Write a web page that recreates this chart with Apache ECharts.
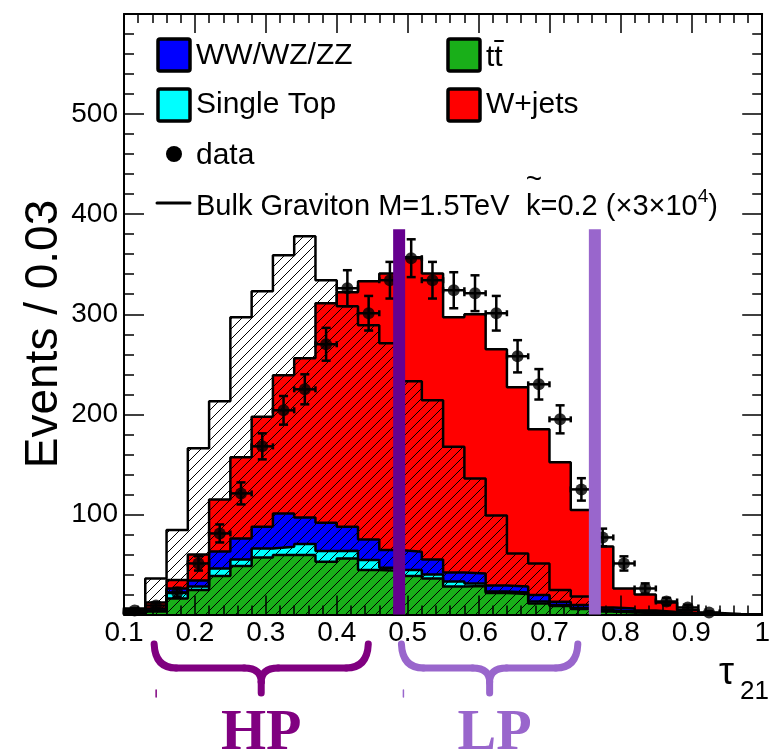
<!DOCTYPE html>
<html>
<head>
<meta charset="utf-8">
<script src="https://cdn.jsdelivr.net/npm/echarts@6/dist/echarts.min.js"></script>
<style>
  html, body { margin: 0; padding: 0; background: #ffffff; }
  #chart { width: 773px; height: 750px; }
</style>
</head>
<body>
<div id="chart"></div>
<script>
// Binning of the tau21 histogram: 30 bins of width 0.03 starting at 0.1
const binLow = 0.1;
const binWidth = 0.03;
const nBins = 30;

// Background components (events per bin), stacked bottom to top
const ttbar     = [1, 3, 16, 24.5, 38.5, 48.5, 57, 59.5, 59.5, 52.7, 56, 44.4, 43.7, 38.4, 36, 28, 28.5, 21.5, 20.5, 11, 8.5, 5.5, 3, 2, 1.5, 1, 0.5, 0.2, 0, 0];
const singleTop = [0.5, 1, 5.5, 3.5, 7.5, 6.5, 9, 8.2, 10.9, 10.7, 7.7, 10, 3, 6, 4, 5, 2.5, 1.5, 1.5, 2, 1, 1, 1, 1, 0.5, 0.5, 0.3, 0.1, 0, 0];
const diboson   = [0.5, 2, 4.5, 6, 17, 21, 21.7, 33.3, 26.6, 28.2, 24, 20.6, 17.7, 18.3, 15, 9, 10, 6, 6, 6.5, 3.3, 3, 3, 3, 2, 1, 0.4, 0.2, 0, 0];
const wjets     = [2, 6, 8.5, 26, 52, 81, 109.8, 138, 159, 219.4, 234.3, 258, 276.2, 294.3, 285.6, 255, 259, 236, 199, 165.5, 139.2, 95, 61, 20, 16, 9.5, 3.3, 1, 0.5, 0.2];

// Bulk graviton signal, M = 1.5 TeV, k~ = 0.2, scaled by 3x10^4
const graviton  = [6, 36, 84.5, 166, 213, 297, 323, 359, 378, 334, 308, 289, 271, 233, 214, 167.5, 136, 99, 61, 51, 24.5, 18, 5, 3, 2, 1, 0.5, 0.2, 0, 0];

// Observed data (bins 0..27) and their statistical uncertainties
const dataCounts = [4, 9, 22, 51, 81, 121, 168, 204, 225, 270, 326, 301, 334, 356, 334, 324, 321, 301, 258, 230, 195, 125, 77, 51, 26, 13, 7, 2];
const dataErr    = [2, 3, 4.7, 7.1, 9, 11, 13, 14.3, 15, 16.4, 18, 17.3, 18.3, 18.9, 18.3, 18, 17.9, 17.3, 16.1, 15.2, 14, 11.2, 8.8, 7.1, 5.1, 3.6, 2.6, 1.4];

// Y tick labels that are printed
const yTickLabels = [100, 200, 300, 400, 500];

// Purity category boundaries (tau21) and their colours
const cutLines  = [0.488, 0.764];
const cutTop    = 385;
const cutColors = ['#66008F', '#9966CC'];

// Braces marking the high-purity and low-purity ranges
const categories = [
  { name: 'HP', from: 0.1425, to: 0.4445, color: '#800080', textShift: 0 },
  { name: 'LP', from: 0.4912, to: 0.7400, color: '#9966CC', textShift: 5 }
];

const FONT = '"Liberation Sans", Arial, Helvetica, sans-serif';
const SERIF = '"Liberation Serif", "DejaVu Serif", serif';

function hatchPattern() {
  const s = 10;
  const c = document.createElement('canvas');
  c.width = s; c.height = s;
  const g = c.getContext('2d');
  g.strokeStyle = '#000000';
  g.lineWidth = 1;
  g.beginPath();
  g.moveTo(0, s); g.lineTo(s, 0);
  g.moveTo(-2, 2); g.lineTo(2, -2);
  g.moveTo(s - 2, s + 2); g.lineTo(s + 2, s - 2);
  g.stroke();
  return c;
}

// Turn per-bin contents into step points (left edges + closing edge)
function steps(vals) {
  const pts = [[binLow, 0]];
  vals.forEach((v, i) => pts.push([binLow + i * binWidth, v]));
  const hi = binLow + nBins * binWidth;
  pts.push([hi, vals[nBins - 1]]);
  pts.push([hi, 0]);
  return pts;
}

function cumulate(a, b) { return a.map((v, i) => v + b[i]); }

const cTT  = ttbar.slice();
const cST  = cumulate(cTT, singleTop);
const cVV  = cumulate(cST, diboson);
const cWJ  = cumulate(cVV, wjets);

function histSeries(name, vals, fill, z) {
  return {
    name: name,
    type: 'line',
    step: 'end',
    symbol: 'none',
    smooth: false,
    z: z,
    data: steps(vals),
    lineStyle: { color: '#000000', width: 2.5 },
    areaStyle: { color: fill, opacity: 1 },
    emphasis: { disabled: true },
    silent: true
  };
}

const chart = echarts.init(document.getElementById('chart'), null, { renderer: 'canvas' });

const axisCommonX = {
  type: 'value', min: 0.1, max: 1.0, interval: 0.1,
  splitLine: { show: false },
  axisLine: { show: true, onZero: false, lineStyle: { color: '#000', width: 2 } },
  axisTick: { show: true, inside: true, length: 19, lineStyle: { color: '#000', width: 1.5 } },
  minorTick: { show: true, splitNumber: 5, length: 9, lineStyle: { color: '#000', width: 1.5 } },
  z: 6
};
const axisCommonY = {
  type: 'value', min: 0, max: 600, interval: 100,
  splitLine: { show: false },
  axisLine: { show: true, onZero: false, lineStyle: { color: '#000', width: 2 } },
  axisTick: { show: true, inside: true, length: 20, lineStyle: { color: '#000', width: 1.5 } },
  minorTick: { show: true, splitNumber: 5, length: 10, lineStyle: { color: '#000', width: 1.5 } },
  z: 6
};

chart.setOption({
  animation: false,
  backgroundColor: '#ffffff',
  grid: { left: 124, right: 7, top: 14, bottom: 135.5, show: false },
  xAxis: [
    Object.assign({}, axisCommonX, {
      position: 'bottom',
      axisLabel: {
        show: true, margin: 5, color: '#000', fontSize: 28, fontFamily: FONT,
        formatter: v => String(Math.round(v * 10) / 10)
      }
    }),
    Object.assign({}, axisCommonX, { position: 'top', axisLabel: { show: false } })
  ],
  yAxis: [
    Object.assign({}, axisCommonY, {
      position: 'left',
      axisLabel: {
        show: true, margin: 6, color: '#000', fontSize: 28, fontFamily: FONT,
        formatter: v => (yTickLabels.indexOf(v) >= 0 ? String(v) : '')
      }
    }),
    Object.assign({}, axisCommonY, { position: 'right', axisLabel: { show: false } })
  ],
  series: [
    histSeries('W+jets', cWJ, '#FF0000', 2),
    histSeries('WW/WZ/ZZ', cVV, '#0000FF', 2),
    histSeries('Single Top', cST, '#00FFFF', 2),
    histSeries('tt', cTT, '#19AF19', 2),
    histSeries('Bulk Graviton', graviton, { image: hatchPattern(), repeat: 'repeat' }, 3),
    {
      name: 'data errors',
      type: 'custom',
      z: 7,
      silent: true,
      data: dataCounts.map((v, i) => [binLow + (i + 0.5) * binWidth, v, dataErr[i]]),
      renderItem: function (params, api) {
        const x = api.value(0), y = api.value(1), e = api.value(2);
        const c = api.coord([x, y]);
        const t = api.coord([x, y + e]);
        const b = api.coord([x, Math.max(y - e, 0)]);
        const l = api.coord([x - binWidth / 2, y]);
        const r = api.coord([x + binWidth / 2, y]);
        const st = { stroke: '#000000', lineWidth: 2.5 };
        const cap = 4.5;
        return {
          type: 'group',
          children: [
            { type: 'line', shape: { x1: c[0], y1: t[1], x2: c[0], y2: b[1] }, style: st },
            { type: 'line', shape: { x1: c[0] - cap, y1: t[1], x2: c[0] + cap, y2: t[1] }, style: st },
            { type: 'line', shape: { x1: c[0] - cap, y1: b[1], x2: c[0] + cap, y2: b[1] }, style: st },
            { type: 'line', shape: { x1: l[0], y1: c[1], x2: r[0], y2: c[1] }, style: st },
            { type: 'line', shape: { x1: l[0], y1: c[1] - 3, x2: l[0], y2: c[1] + 3 }, style: st },
            { type: 'line', shape: { x1: r[0], y1: c[1] - 3, x2: r[0], y2: c[1] + 3 }, style: st }
          ]
        };
      }
    },
    {
      name: 'data',
      type: 'scatter',
      z: 8,
      silent: true,
      symbol: 'circle',
      symbolSize: 12,
      itemStyle: { color: '#000000' },
      data: dataCounts.map((v, i) => [binLow + (i + 0.5) * binWidth, v])
    },
    {
      name: 'category boundaries',
      type: 'custom',
      z: 10,
      silent: true,
      data: cutLines.map((x, i) => [x, cutTop, i]),
      renderItem: function (params, api) {
        const b = api.coord([api.value(0), 0]);
        const t = api.coord([api.value(0), api.value(1)]);
        return {
          type: 'rect',
          shape: { x: b[0] - 6, y: t[1], width: 12, height: b[1] - t[1] },
          style: { fill: cutColors[api.value(2)] }
        };
      }
    }
  ]
});

// Legend, axis titles and category braces
const g = [];
function txt(x, y, text, size, opts) {
  g.push(Object.assign({
    type: 'text', x: x, y: y, silent: true, z: 20,
    style: Object.assign({
      text: text, fill: '#000', fontSize: size, fontFamily: FONT,
      align: 'left', verticalAlign: 'middle', textAlign: 'left', textVerticalAlign: 'middle'
    }, (opts && opts.style) || {})
  }, (opts && opts.el) || {}));
}
function box(x, y, color) {
  g.push({ type: 'rect', silent: true, z: 20, shape: { x: x, y: y, width: 32, height: 32, r: 2 },
           style: { fill: color, stroke: '#000', lineWidth: 3.5 } });
}
function seg(x1, y1, x2, y2, color, w) {
  g.push({ type: 'line', silent: true, z: 20, shape: { x1: x1, y1: y1, x2: x2, y2: y2 },
           style: { stroke: color, lineWidth: w, lineCap: 'round' } });
}
function curve(x1, y1, cx, cy, x2, y2, color, w) {
  g.push({ type: 'bezierCurve', silent: true, z: 20,
           shape: { x1: x1, y1: y1, x2: x2, y2: y2, cpx1: cx, cpy1: cy },
           style: { stroke: color, lineWidth: w, fill: null, lineCap: 'round' } });
}

box(158, 39, '#0000FF');  txt(196, 56, 'WW/WZ/ZZ', 30);
box(448, 39, '#19AF19');  txt(486, 58, 'tt', 30);
seg(495, 41, 503, 41, '#000', 2);
box(158, 89, '#00FFFF');  txt(196, 105, 'Single Top', 30);
box(448, 89, '#FF0000');  txt(486, 105, 'W+jets', 30);
g.push({ type: 'circle', silent: true, z: 20, shape: { cx: 174, cy: 154, r: 8 }, style: { fill: '#000' } });
txt(196, 156, 'data', 30);
seg(157, 203, 190, 203, '#000', 3);
txt(196, 207, 'Bulk Graviton M=1.5TeV', 29);
txt(526, 207, '{m|k=0.2 (×3×10}{s|4}{m|)}', 29, { style: { rich: {
  m: { fontSize: 29, fontFamily: FONT, fill: '#000', lineHeight: 40, verticalAlign: 'middle' },
  s: { fontSize: 19, fontFamily: FONT, fill: '#000', lineHeight: 40, verticalAlign: 'top' }
} } });
txt(534, 180, '~', 28, { style: { align: 'center', textAlign: 'center' } });

// Axis titles
txt(44, 334, 'Events / 0.03', 46, { el: { rotation: Math.PI / 2 }, style: { align: 'center', textAlign: 'center' } });
txt(719, 674, 'τ', 38);
txt(740, 692, '21', 26);

// Braces below the axis, placed from their tau21 ranges
categories.forEach(cat => {
  const x1 = chart.convertToPixel({ xAxisIndex: 0 }, cat.from);
  const x2 = chart.convertToPixel({ xAxisIndex: 0 }, cat.to);
  const xm = (x1 + x2) / 2;
  const yT = 644, yM = 668, yB = 693;
  const w = 7, c = cat.color;
  curve(x1, yT, x1 + 1, yM, x1 + 22, yM, c, w);
  seg(x1 + 22, yM, xm - 17, yM, c, w);
  curve(xm - 17, yM, xm, yM, xm, yM + 14, c, w);
  seg(xm, yM + 14, xm, yB, c, w);
  curve(xm + 17, yM, xm, yM, xm, yM + 14, c, w);
  seg(xm + 17, yM, x2 - 22, yM, c, w);
  curve(x2 - 22, yM, x2 - 1, yM, x2, yT, c, w);
  // small marker under the left end of each brace
  seg(x1 + 2, 690, x1 + 2, 697, c, 1.5);
  txt(xm + cat.textShift, 734, cat.name, 58, { style: {
    fill: c, fontFamily: SERIF, fontWeight: 'bold', align: 'center', textAlign: 'center'
  } });
});

chart.setOption({ graphic: { elements: g } });
</script>
</body>
</html>
